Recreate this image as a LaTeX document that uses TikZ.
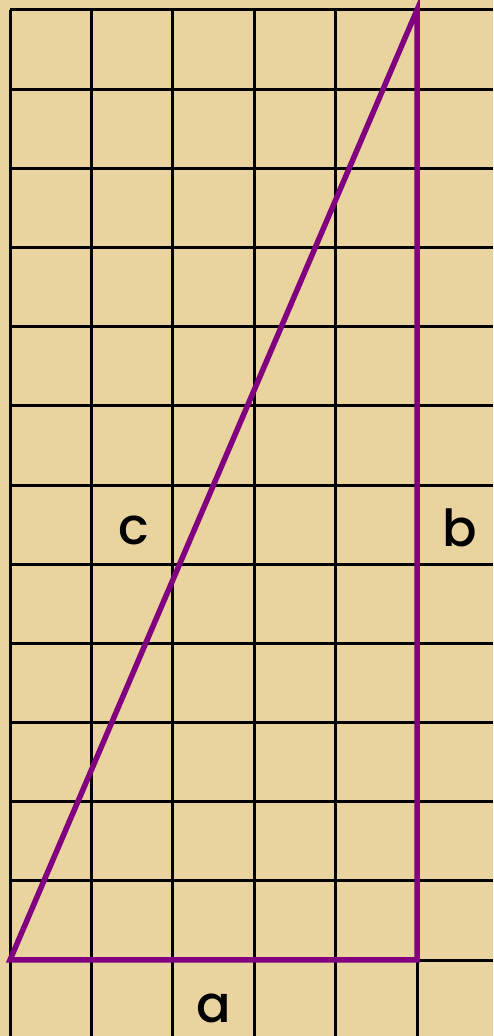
\documentclass[tikz,border=0pt]{standalone}
\usepackage{fontspec}
\setmainfont{Poppins}[UprightFont=* Medium]
\usepackage{xcolor}
\usepackage{tikz}
\definecolor{PapyrusTan}{HTML}{E9D49F}
\definecolor{GridInk}{HTML}{000000}
\definecolor{TriPurple}{HTML}{800080}
\tikzset{sidelabel/.style={anchor=base,inner sep=0pt,text depth=0pt,
    font=\fontsize{51}{58}\selectfont}}

\begin{document}
\begin{tikzpicture}[x=1pt,y=1pt]
  \fill[PapyrusTan] (0,0) rectangle (493,1036);
  \useasboundingbox (0,0) rectangle (493,1036);
  \foreach \k in {0,...,12}
    \draw[GridInk,line width=3pt] (10,{1026-\k*79.17}) -- (493,{1026-\k*79.17});
  \foreach \k in {0,...,5}
    \draw[GridInk,line width=3pt] ({10+\k*81.4},1026) -- ({10+\k*81.4},0);
  \coordinate (left) at (10,76);
  \coordinate (right) at (417,76);
  \coordinate (top) at (417,1026);
  \draw[TriPurple,line width=5.5pt,line join=miter] (left) -- (right) -- (top) -- cycle;
  \node[sidelabel] (lblc) at (133.5,491) {c};
  \node[sidelabel] (lblb) at (459.5,489) {b};
  \node[sidelabel] (lbla) at (214,13) {a};
\end{tikzpicture}
\end{document}
